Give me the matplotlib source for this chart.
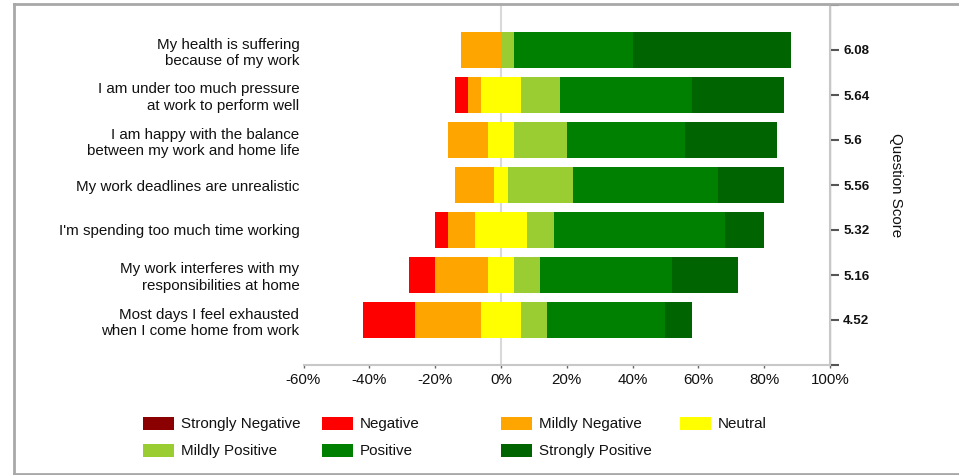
import numpy as np
import matplotlib
matplotlib.use("Agg")
import matplotlib.pyplot as plt
from matplotlib.patches import Rectangle
from matplotlib.lines import Line2D

plt.rcParams["font.family"] = ["Liberation Sans", "DejaVu Sans"]

# Survey data (percent of responses per answer)
questions = [
    "My health is suffering\nbecause of my work",
    "I am under too much pressure\nat work to perform well",
    "I am happy with the balance\nbetween my work and home life",
    "My work deadlines are unrealistic",
    "I'm spending too much time working",
    "My work interferes with my\nresponsibilities at home",
    "Most days I feel exhausted\nwhen I come home from work",
]
scores = ["6.08", "5.64", "5.6", "5.56", "5.32", "5.16", "4.52"]

strongly_negative = [0, 0, 0, 0, 0, 0, 0]
negative = [0, 4, 0, 0, 4, 8, 16]
mildly_negative = [12, 4, 12, 12, 8, 16, 20]
neutral = [0, 12, 8, 4, 16, 8, 12]
mildly_positive = [4, 12, 16, 20, 8, 8, 8]
positive = [36, 40, 36, 44, 52, 40, 36]
strongly_positive = [48, 28, 28, 20, 12, 20, 8]

x_ticks = [-60, -40, -20, 0, 20, 40, 60, 80, 100]

names = ["Strongly Negative", "Negative", "Mildly Negative", "Neutral",
         "Mildly Positive", "Positive", "Strongly Positive"]
colors = ["#8b0000", "#ff0000", "#ffa500", "#ffff00",
          "#9acd32", "#008000", "#006400"]

W, H = 959, 475
fs = 10.9
fig = plt.figure(figsize=(W / 100, H / 100), dpi=100)

# axes spans -60%..100% horizontally, 7 rows vertically
ax_l, ax_r, ax_t, ax_b = 303.5, 830, 5, 365
ax = fig.add_axes([ax_l / W, 1 - ax_b / H, (ax_r - ax_l) / W, (ax_b - ax_t) / H])

y = np.arange(len(questions))
neu = np.array(neutral, dtype=float)
bar_h = 0.8

# negative side, stacking outward from the neutral half
left_edge = -neu / 2
for vals, c in [(mildly_negative, colors[2]), (negative, colors[1]),
                (strongly_negative, colors[0])]:
    v = np.array(vals, dtype=float)
    ax.barh(y, -v, left=left_edge, height=bar_h, color=c, linewidth=0, zorder=2)
    left_edge = left_edge - v

ax.barh(y, neu, left=-neu / 2, height=bar_h, color=colors[3], linewidth=0, zorder=2)

right_edge = neu / 2
for vals, c in [(mildly_positive, colors[4]), (positive, colors[5]),
                (strongly_positive, colors[6])]:
    v = np.array(vals, dtype=float)
    ax.barh(y, v, left=right_edge, height=bar_h, color=c, linewidth=0, zorder=2)
    right_edge = right_edge + v

ax.axvline(0, color="#d9d9d9", linewidth=1.5, zorder=1)

ax.set_xlim(-60, 100)
ax.set_ylim(len(questions), -1)
ax.set_xticks(x_ticks)
ax.set_xticklabels([f"{t}%" for t in x_ticks], fontsize=fs, color="#111111")
ax.tick_params(axis="x", length=2.5, width=1, color="#666666", pad=3)

ax.set_yticks(y)
ax.set_yticklabels(questions, fontsize=fs, color="#111111", linespacing=1.2)
ax.tick_params(axis="y", length=0, pad=3)

for s in ["top", "left"]:
    ax.spines[s].set_visible(False)
ax.spines["bottom"].set_color("#c8c8c8")
ax.spines["bottom"].set_linewidth(1.5)

# right axis with question scores
ax2 = ax.twinx()
ax2.set_ylim(ax.get_ylim())
ax2.set_yticks(list(y) + [-1, len(questions)])
ax2.set_yticklabels(scores + ["", ""], fontsize=9.6, fontweight="bold", color="#111111")
ax2.tick_params(axis="y", length=6.5, width=1.5, color="#555555", pad=3)
ax2.spines["right"].set_color("#c8c8c8")
ax2.spines["right"].set_linewidth(1.5)
for s in ["top", "left", "bottom"]:
    ax2.spines[s].set_visible(False)
ax2.set_ylabel("Question Score", rotation=-90, fontsize=fs, labelpad=24, color="#111111")

# legend laid out in a fixed grid
for i, (n, c) in enumerate(zip(names, colors)):
    col, row = i % 4, i // 4
    x0 = 143 + 179 * col
    y0 = 417 + 27 * row
    fig.add_artist(Rectangle((x0 / W, 1 - (y0 + 13) / H), 31 / W, 13 / H,
                             transform=fig.transFigure, color=c, linewidth=0))
    fig.text((x0 + 38) / W, 1 - (y0 + 7) / H, n, fontsize=fs,
             va="center", ha="left", color="#111111")

# outer frame
frame_kw = dict(transform=fig.transFigure, color="#a8a8a8", linewidth=2)
fig.add_artist(Line2D([14 / W, 14 / W], [1 - 4 / H, 1 - 474 / H], **frame_kw))
fig.add_artist(Line2D([14 / W, 1], [1 - 4 / H, 1 - 4 / H], **frame_kw))
fig.add_artist(Line2D([14 / W, 1], [1 - 474 / H, 1 - 474 / H], **frame_kw))

fig.savefig("out.png", dpi=100)
